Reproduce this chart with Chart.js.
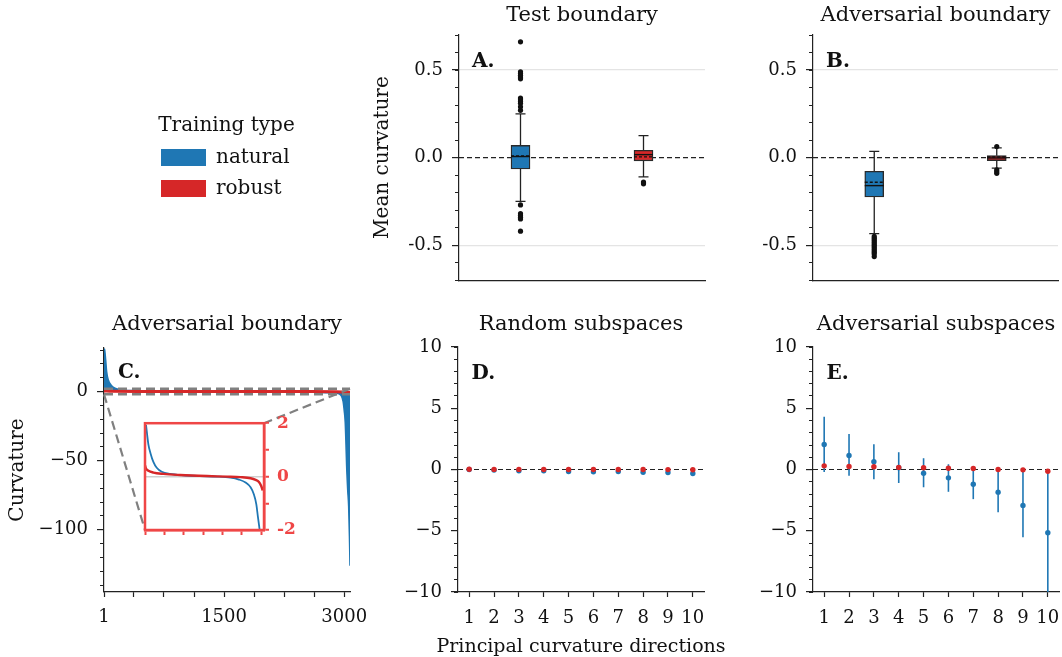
<!DOCTYPE html>
<html>
<head>
<meta charset="utf-8">
<script src="https://cdn.jsdelivr.net/npm/chart.js@4.4.1/dist/chart.umd.min.js"></script>
<style>
  html, body { margin: 0; padding: 0; background: #fff; }
  #fig { position: relative; width: 1062px; height: 657px; overflow: hidden; background: #fff; }
  #fig canvas { position: absolute; }
</style>
</head>
<body>
<div id="fig"></div>
<script>
// ---------------- data ----------------
const groups = ['natural', 'robust'];
const blue = '#1f77b4';
const red = '#d62728';
const insetRed = '#ef4646';

// A. test boundary: box plot summary per training type
const testQ1 = [-0.065, -0.019];
const testQ3 = [0.07, 0.042];
const testMedian = [0.006, 0.017];
const testMean = [0.01, 0.004];
const testWhiskLo = [-0.25, -0.11];
const testWhiskHi = [0.25, 0.126];
const testOutNatural = [0.661, 0.49, 0.48, 0.47, 0.46, 0.45, 0.34, 0.33, 0.32, 0.31, 0.29, 0.27, -0.27, -0.32, -0.33, -0.34, -0.35, -0.42];
const testOutRobust = [-0.14, -0.15];

// B. adversarial boundary
const advQ1 = [-0.225, -0.017];
const advQ3 = [-0.078, 0.011];
const advMedian = [-0.16, -0.002];
const advMean = [-0.141, 0.003];
const advWhiskLo = [-0.434, -0.06];
const advWhiskHi = [0.036, 0.055];
const advOutNatural = [-0.45, -0.46, -0.47, -0.48, -0.49, -0.5, -0.51, -0.52, -0.53, -0.54, -0.55, -0.565];
const advOutRobust = [0.063, -0.07, -0.08, -0.09];

// C. sorted curvature profile (index, value)
const cNatIdx = [1, 10, 22, 34, 54, 88, 138, 221, 400, 800, 1500, 2200, 2600, 2800, 2905, 2962, 2985, 3000, 3012, 3020, 3030, 3043, 3055, 3065, 3072];
const cNatVal = [31, 30, 22.9, 14.5, 8.5, 4.8, 2.4, 1.2, 0.6, 0.2, 0.05, -0.1, -0.4, -0.8, -1.2, -3, -7, -14, -22, -35, -54, -71, -83, -105, -126];
const cRobIdx = [1, 100, 500, 1500, 2500, 2900, 3000, 3072];
const cRobVal = [0.42, 0.2, 0.1, 0.02, -0.02, -0.12, -0.36, -0.55];
const zoomX = [1, 3072];
const zoomY = [-2, 2];
const cTicks = [1, 375, 750, 1125, 1500, 1875, 2250, 2625, 3000];
const cTickLabels = ['1', '', '', '', '1500', '', '', '', '3000'];

// C inset (zoom on -2..2)
const insNatIdx = [26, 87, 147, 216, 303, 433, 649, 995, 1428, 1861, 2207, 2423, 2596, 2726, 2812, 2873, 2916, 2960, 2985];
const insNatVal = [1.94, 1.21, 0.85, 0.55, 0.33, 0.18, 0.1, 0.05, 0.02, 0.0, -0.04, -0.11, -0.22, -0.4, -0.67, -1.03, -1.52, -2.0, -2.3];
const insRobIdx = [0, 26, 87, 216, 476, 908, 1600, 2120, 2466, 2726, 2856, 2942, 3003, 3037];
const insRobVal = [0.42, 0.3, 0.22, 0.15, 0.1, 0.06, 0.02, 0.0, -0.02, -0.06, -0.12, -0.2, -0.36, -0.52];
const insTicks = [0, 500, 1000, 1500, 2000, 2500, 3000];

// D. random subspaces, E. adversarial subspaces
const dirs = [1, 2, 3, 4, 5, 6, 7, 8, 9, 10];
const dNatMean = [0, -0.05, -0.1, -0.1, -0.16, -0.19, -0.17, -0.22, -0.24, -0.33];
const dNatLo = [-0.05, -0.1, -0.15, -0.16, -0.22, -0.25, -0.24, -0.29, -0.32, -0.42];
const dNatHi = [0.05, 0.0, -0.05, -0.04, -0.1, -0.13, -0.1, -0.15, -0.16, -0.24];
const dRobMean = [0.02, 0.01, 0.01, 0, 0, 0, 0, 0, -0.01, -0.02];
const dRobLo = [0.0, -0.01, -0.01, -0.02, -0.02, -0.02, -0.02, -0.02, -0.03, -0.04];
const dRobHi = [0.04, 0.03, 0.03, 0.02, 0.02, 0.02, 0.02, 0.02, 0.01, 0.0];
const eNatMean = [2.04, 1.14, 0.63, 0.15, -0.3, -0.68, -1.2, -1.85, -2.93, -5.16];
const eNatLo = [-0.2, -0.5, -0.8, -1.1, -1.45, -1.82, -2.42, -3.48, -5.54, -10.5];
const eNatHi = [4.3, 2.9, 2.07, 1.41, 0.92, 0.43, 0.05, 0.0, -0.05, -0.1];
const eRobMean = [0.3, 0.25, 0.22, 0.17, 0.14, 0.1, 0.08, 0.0, -0.03, -0.14];
const eRobLo = [0.22, 0.18, 0.15, 0.1, 0.08, 0.04, 0.02, -0.05, -0.08, -0.2];
const eRobHi = [0.38, 0.32, 0.29, 0.24, 0.2, 0.16, 0.14, 0.05, 0.02, -0.08];

// ---------------- setup ----------------
const FONT = "'DejaVu Serif', serif";
Chart.defaults.font.family = FONT;
Chart.defaults.font.size = 18;
Chart.defaults.color = '#111';
Chart.defaults.animation = false;
Chart.defaults.responsive = false;
Chart.defaults.maintainAspectRatio = false;
Chart.defaults.events = [];
Chart.defaults.plugins.legend.display = false;
Chart.defaults.plugins.tooltip.enabled = false;

const fig = document.getElementById('fig');
function place(p) {
  const c = document.createElement('canvas');
  c.width = p.w; c.height = p.h;
  c.style.left = p.left + 'px'; c.style.top = p.top + 'px';
  c.style.width = p.w + 'px'; c.style.height = p.h + 'px';
  if (p.z) c.style.zIndex = p.z;
  fig.appendChild(c);
  return c;
}

// canvases are a bit wider than their panels; the layout padding soaks up tick-label overhang
const posLegend = {left: 150, top: 110, w: 153, h: 200, z: 3};
const posA = {left: 360, top: 0, w: 350, h: 300};
const posB = {left: 710, top: 0, w: 352, h: 300};
const posC = {left: 0, top: 300, w: 380, h: 330};
const posInset = {left: 130, top: 405, w: 172, h: 145, z: 2};
const posD = {left: 370, top: 300, w: 380, h: 357};
const posE = {left: 710, top: 300, w: 380, h: 330};

const minusFmt = v => v < 0 ? '\u2212' + Math.abs(v) : String(v);

// left y axis: labelled majors + short minor ticks on a second, zero-width axis
function leftAxes(cfg) {
  return {
    y: {
      type: 'linear', position: 'left', weight: 1, min: cfg.min, max: cfg.max,
      afterBuildTicks: s => { s.ticks = cfg.majors.map(v => ({value: v})); },
      afterFit: s => { s.width = cfg.width; },
      ticks: {callback: cfg.fmt, padding: 9, font: {size: 18}},
      grid: {
        drawOnChartArea: !!cfg.gridAt,
        color: ctx => (cfg.gridAt && ctx.tick && cfg.gridAt.includes(ctx.tick.value)) ? '#e4e4e4' : 'rgba(0,0,0,0)',
        lineWidth: 1.2, tickLength: 7, tickColor: '#222', tickWidth: 1.2
      },
      border: {color: '#222', width: 1.2},
      title: {display: !!cfg.title, text: cfg.title || '', font: {size: 20}, padding: {top: cfg.titlePad || 0, bottom: 0}}
    },
    ym: {
      type: 'linear', position: 'left', weight: 0, min: cfg.min, max: cfg.max,
      afterFit: s => { s.width = 0; },
      ticks: {display: false, stepSize: cfg.minorStep, includeBounds: false},
      grid: {drawOnChartArea: false, tickLength: 4, tickColor: '#222', tickWidth: 1},
      border: {display: false}
    }
  };
}

// ---------------- plugins ----------------
const zeroLine = {
  id: 'zeroLine',
  beforeDatasetsDraw(chart) {
    const {ctx, chartArea: a, scales: {y}} = chart;
    const py = y.getPixelForValue(0);
    ctx.save();
    ctx.strokeStyle = '#222'; ctx.lineWidth = 1.2; ctx.setLineDash([5, 3]);
    ctx.beginPath(); ctx.moveTo(a.left, py); ctx.lineTo(a.right, py); ctx.stroke();
    ctx.restore();
  }
};

const panelLetter = {
  id: 'panelLetter',
  afterDraw(chart, args, opts) {
    const {ctx, chartArea: a} = chart;
    ctx.save();
    ctx.font = 'bold 20px ' + FONT;
    ctx.fillStyle = '#111';
    ctx.textBaseline = 'alphabetic';
    ctx.fillText(opts.text, a.left + opts.dx, a.top + opts.dy);
    ctx.restore();
  }
};

// x caption that may run wider than the axis (axis titles get squeezed)
const xCaption = {
  id: 'xCaption',
  afterDraw(chart, args, opts) {
    if (!opts.text) return;
    const {ctx, chartArea: a} = chart;
    ctx.save();
    ctx.font = '19px ' + FONT;
    ctx.fillStyle = '#111';
    ctx.textAlign = 'center';
    ctx.textBaseline = 'middle';
    ctx.fillText(opts.text, (a.left + a.right) / 2, a.bottom + opts.dy);
    ctx.restore();
  }
};

const boxLines = {
  id: 'boxLines',
  beforeDatasetsDraw(chart) {
    const ds = chart.data.datasets.find(d => d.q1);
    const {ctx, scales: {x, y}} = chart;
    ctx.save();
    ctx.strokeStyle = '#222'; ctx.lineWidth = 1.3;
    ds.lo.forEach((lo, i) => {
      const px = x.getPixelForValue(i);
      [[lo, ds.q1[i]], [ds.hi[i], ds.q3[i]]].forEach(([end, edge]) => {
        const pe = y.getPixelForValue(end);
        ctx.beginPath();
        ctx.moveTo(px, y.getPixelForValue(edge)); ctx.lineTo(px, pe);
        ctx.moveTo(px - 5, pe); ctx.lineTo(px + 5, pe);
        ctx.stroke();
      });
    });
    ctx.restore();
  },
  afterDatasetsDraw(chart) {
    const idx = chart.data.datasets.findIndex(d => d.q1);
    const ds = chart.data.datasets[idx];
    const bars = chart.getDatasetMeta(idx).data;
    const {ctx, scales: {y}} = chart;
    ctx.save();
    ctx.strokeStyle = '#111'; ctx.lineWidth = 1.4;
    bars.forEach((bar, i) => {
      const half = bar.width / 2;
      const pm = y.getPixelForValue(ds.med[i]);
      ctx.setLineDash([]);
      ctx.beginPath(); ctx.moveTo(bar.x - half, pm); ctx.lineTo(bar.x + half, pm); ctx.stroke();
      const pa = y.getPixelForValue(ds.mean[i]);
      ctx.setLineDash([3, 2]);
      ctx.beginPath(); ctx.moveTo(bar.x - half, pa); ctx.lineTo(bar.x + half, pa); ctx.stroke();
    });
    ctx.restore();
  }
};

const errorBars = {
  id: 'errorBars',
  beforeDatasetsDraw(chart) {
    const {ctx, chartArea: a, scales: {x, y}} = chart;
    ctx.save();
    ctx.beginPath(); ctx.rect(a.left, a.top, a.width, a.height); ctx.clip();
    chart.data.datasets.forEach(ds => {
      if (!ds.errLo) return;
      ctx.strokeStyle = ds.backgroundColor; ctx.lineWidth = 1.6;
      ds.errLo.forEach((lo, i) => {
        const px = x.getPixelForValue(ds.data[i].x);
        ctx.beginPath();
        ctx.moveTo(px, y.getPixelForValue(lo));
        ctx.lineTo(px, y.getPixelForValue(ds.errHi[i]));
        ctx.stroke();
      });
    });
    ctx.restore();
  }
};

const insetFrame = {
  id: 'insetFrame',
  afterDatasetsDraw(chart) {
    const {ctx, chartArea: a} = chart;
    ctx.save();
    ctx.strokeStyle = insetRed; ctx.lineWidth = 2.5;
    ctx.strokeRect(a.left, a.top, a.width, a.height);
    ctx.restore();
  }
};

let insetChart = null;
const zoomConnectors = {
  id: 'zoomConnectors',
  afterDatasetsDraw(chart) {
    if (!insetChart) return;
    const {ctx, scales: {x, y}} = chart;
    const ia = insetChart.chartArea;
    const dx = posInset.left - posC.left, dy = posInset.top - posC.top;
    ctx.save();
    ctx.strokeStyle = '#808080'; ctx.lineWidth = 2.2; ctx.setLineDash([9, 5]);
    ctx.beginPath();
    ctx.moveTo(x.getPixelForValue(zoomX[0]), y.getPixelForValue(zoomY[0]));
    ctx.lineTo(ia.left + dx, ia.bottom + dy);
    ctx.moveTo(x.getPixelForValue(zoomX[1]), y.getPixelForValue(zoomY[1]));
    ctx.lineTo(ia.right + dx, ia.top + dy);
    ctx.stroke();
    ctx.restore();
  }
};

const titleOpts = (text, top, bottom) => ({
  display: true, text, fullSize: false, color: '#111',
  font: {size: 21, weight: 'normal'}, padding: {top, bottom}
});

// ---------------- legend ----------------
new Chart(place(posLegend), {
  type: 'bar',
  data: {
    labels: [],
    datasets: [
      {label: 'natural', data: [], backgroundColor: blue, borderWidth: 0},
      {label: 'robust', data: [], backgroundColor: red, borderWidth: 0}
    ]
  },
  options: {
    devicePixelRatio: 1,
    scales: {x: {display: false}, y: {display: false}},
    plugins: {
      title: {display: true, text: 'Training type', color: '#111', font: {size: 20, weight: 'normal'}, padding: {top: 4, bottom: -1.5}},
      legend: {
        display: true, position: 'top', align: 'start',
        labels: {boxWidth: 45, boxHeight: 17, padding: 11, color: '#111', font: {size: 20}}
      }
    }
  }
});

// ---------------- A & B: box plots ----------------
function boxChart(pos, cfg) {
  return new Chart(place(pos), {
    type: 'bar',
    data: {
      labels: groups,
      datasets: [
        {
          type: 'scatter', order: 0,
          data: cfg.outNat.map(v => ({x: groups[0], y: v})).concat(cfg.outRob.map(v => ({x: groups[1], y: v}))),
          backgroundColor: '#111', borderWidth: 0, pointRadius: 2.6
        },
        {
          type: 'bar', order: 1,
          data: groups.map((g, i) => [cfg.q1[i], cfg.q3[i]]),
          backgroundColor: [blue, red], borderColor: '#2a2a2a', borderWidth: 1.4,
          borderSkipped: false, barThickness: 19,
          q1: cfg.q1, q3: cfg.q3, med: cfg.med, mean: cfg.mean, lo: cfg.lo, hi: cfg.hi
        }
      ]
    },
    options: {
      devicePixelRatio: 1,
      layout: {padding: {left: 0, right: cfg.padRight, top: 0, bottom: 0}},
      plugins: {
        title: titleOpts(cfg.title, 3, 6.8),
        panelLetter: {text: cfg.letter, dx: 13, dy: 32}
      },
      scales: Object.assign({
        x: {
          type: 'category', offset: true,
          grid: {display: false}, ticks: {display: false},
          border: {color: '#222', width: 1.2},
          afterFit: s => { s.height = 19; }
        }
      }, leftAxes({
        min: -0.7, max: 0.7, majors: [-0.5, 0, 0.5], minorStep: 0.1, width: cfg.yWidth,
        fmt: v => v.toFixed(1), gridAt: [-0.5, 0.5], title: cfg.yTitle, titlePad: 11
      }))
    },
    plugins: [zeroLine, boxLines, panelLetter]
  });
}

boxChart(posA, {
  title: 'Test boundary', letter: 'A.', yTitle: 'Mean curvature', yWidth: 99, padRight: 5,
  q1: testQ1, q3: testQ3, med: testMedian, mean: testMean, lo: testWhiskLo, hi: testWhiskHi,
  outNat: testOutNatural, outRob: testOutRobust
});
boxChart(posB, {
  title: 'Adversarial boundary', letter: 'B.', yTitle: null, yWidth: 103, padRight: 2,
  q1: advQ1, q3: advQ3, med: advMedian, mean: advMean, lo: advWhiskLo, hi: advWhiskHi,
  outNat: advOutNatural, outRob: advOutRobust
});

// ---------------- C inset ----------------
const pts = (xs, ys) => xs.map((x, i) => ({x, y: ys[i]}));

insetChart = new Chart(place(posInset), {
  type: 'line',
  data: {
    datasets: [
      {data: pts(insRobIdx, insRobVal), borderColor: red, borderWidth: 2.4, pointRadius: 0, cubicInterpolationMode: 'monotone', order: 0},
      {data: pts(insNatIdx, insNatVal), borderColor: blue, borderWidth: 1.8, pointRadius: 0, cubicInterpolationMode: 'monotone', order: 1}
    ]
  },
  options: {
    devicePixelRatio: 1,
    layout: {padding: {left: 15, top: 15, right: 0, bottom: 0}},
    scales: {
      x: {
        type: 'linear', min: 0, max: 3072,
        afterBuildTicks: s => { s.ticks = insTicks.map(v => ({value: v})); },
        afterFit: s => { s.height = 20; },
        ticks: {display: false},
        grid: {drawOnChartArea: false, tickLength: 5, tickColor: insetRed, tickWidth: 2},
        border: {color: insetRed, width: 2.5}
      },
      y: {
        type: 'linear', position: 'right', min: -2, max: 2,
        afterFit: s => { s.width = 38; },
        ticks: {
          stepSize: 0.5, padding: 8, color: insetRed,
          font: {size: 17, weight: 'bold'},
          callback: v => (v === 2 || v === 0 || v === -2) ? String(v) : ''
        },
        grid: {
          color: ctx => (ctx.tick && ctx.tick.value === 0) ? '#cfcfcf' : 'rgba(0,0,0,0)',
          lineWidth: 1.5, tickLength: 5, tickColor: insetRed, tickWidth: 2
        },
        border: {color: insetRed, width: 2.5}
      }
    }
  },
  plugins: [insetFrame]
});

// ---------------- C ----------------
new Chart(place(posC), {
  type: 'line',
  data: {
    datasets: [
      {data: pts(zoomX, [zoomY[1], zoomY[1]]), borderColor: '#808080', borderWidth: 2.6, borderDash: [9, 5], pointRadius: 0, order: 0},
      {data: pts(zoomX, [zoomY[0], zoomY[0]]), borderColor: '#808080', borderWidth: 2.6, borderDash: [9, 5], pointRadius: 0, order: 0},
      {data: pts(cRobIdx, cRobVal), borderColor: red, borderWidth: 3, pointRadius: 0, cubicInterpolationMode: 'monotone', order: 1},
      {data: pts(cNatIdx, cNatVal), borderColor: blue, backgroundColor: blue, borderWidth: 1.5, pointRadius: 0, fill: 'origin', cubicInterpolationMode: 'monotone', order: 2}
    ]
  },
  options: {
    devicePixelRatio: 1,
    layout: {padding: {left: 0, right: 30, top: 0, bottom: 0}},
    plugins: {
      title: titleOpts('Adversarial boundary', 12.4, 10.4),
      panelLetter: {text: 'C.', dx: 14, dy: 30}
    },
    scales: Object.assign({
      x: {
        type: 'linear', min: 1, max: 3072,
        afterBuildTicks: s => { s.ticks = cTicks.map(v => ({value: v})); },
        afterFit: s => { s.height = 38; },
        ticks: {callback: (v, i) => cTickLabels[i], padding: 10, maxRotation: 0, autoSkip: false, font: {size: 18}},
        grid: {drawOnChartArea: false, tickLength: 5, tickColor: '#222', tickWidth: 1.2},
        border: {color: '#222', width: 1.2}
      }
    }, leftAxes({
      min: -145, max: 31.5, majors: [-100, -50, 0], minorStep: 10, width: 104,
      fmt: minusFmt, gridAt: null, title: 'Curvature', titlePad: 6
    }))
  },
  plugins: [zoomConnectors, panelLetter]
});

// ---------------- D & E ----------------
function subspaceChart(pos, cfg) {
  return new Chart(place(pos), {
    type: 'scatter',
    data: {
      datasets: [
        {data: pts(dirs, cfg.robMean), errLo: cfg.robLo, errHi: cfg.robHi, backgroundColor: red, borderWidth: 0, pointRadius: 2.7, order: 0},
        {data: pts(dirs, cfg.natMean), errLo: cfg.natLo, errHi: cfg.natHi, backgroundColor: blue, borderWidth: 0, pointRadius: 2.7, order: 1}
      ]
    },
    options: {
      devicePixelRatio: 1,
      layout: {padding: {left: 0, right: cfg.padRight, top: 0, bottom: 0}},
      plugins: {
        title: titleOpts(cfg.title, 12.4, 9.4),
        panelLetter: {text: cfg.letter, dx: 13.5, dy: 32},
        xCaption: {text: cfg.xTitle, dy: 55}
      },
      scales: Object.assign({
        x: {
          type: 'linear', min: 0.55, max: 10.45,
          afterBuildTicks: s => { s.ticks = dirs.map(v => ({value: v})); },
          afterFit: s => { s.height = cfg.xHeight; },
          ticks: {padding: 11, maxRotation: 0, autoSkip: false, font: {size: 18}},
          grid: {drawOnChartArea: false, tickLength: 5, tickColor: '#222', tickWidth: 1.2},
          border: {color: '#222', width: 1.2}
        }
      }, leftAxes({
        min: -10, max: 10, majors: [-10, -5, 0, 5, 10], minorStep: 1, width: cfg.yWidth,
        fmt: minusFmt, gridAt: null
      }))
    },
    plugins: [zeroLine, errorBars, panelLetter, xCaption]
  });
}

subspaceChart(posD, {
  title: 'Random subspaces', letter: 'D.', yWidth: 88, padRight: 46, xHeight: 65,
  xTitle: 'Principal curvature directions',
  natMean: dNatMean, natLo: dNatLo, natHi: dNatHi, robMean: dRobMean, robLo: dRobLo, robHi: dRobHi
});
subspaceChart(posE, {
  title: 'Adversarial subspaces', letter: 'E.', yWidth: 103, padRight: 31, xHeight: 38,
  xTitle: null,
  natMean: eNatMean, natLo: eNatLo, natHi: eNatHi, robMean: eRobMean, robLo: eRobLo, robHi: eRobHi
});
</script>
</body>
</html>
